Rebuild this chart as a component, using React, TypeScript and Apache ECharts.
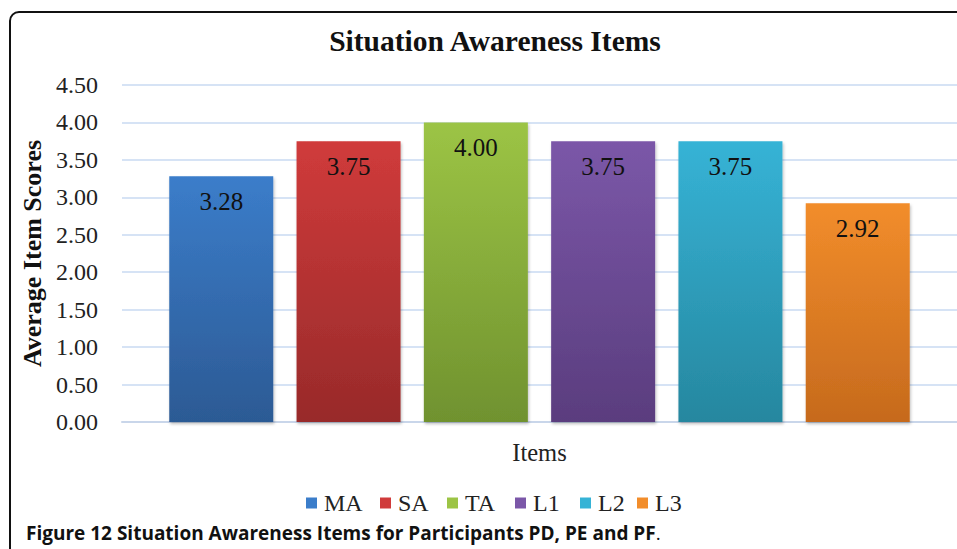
import React, { useEffect, useRef } from "react";
import * as echarts from "echarts";

const categories = ["Items"];
const seriesNames = ["MA", "SA", "TA", "L1", "L2", "L3"];
const seriesValues = [3.28, 3.75, 4.0, 3.75, 3.75, 2.92];
const topColors = ["#3b7dca", "#d03b3b", "#9cc445", "#7b57a8", "#36b3d6", "#f28d2b"];
const bottomColors = ["#2c5a94", "#982a2a", "#70922f", "#5a3d7e", "#26879f", "#c66a1d"];
const yTicks = { min: 0, max: 4.5, interval: 0.5 };

const SERIF = "'Liberation Serif', 'Times New Roman', serif";
const legendLefts = [306, 380, 447, 515, 580, 637];

export default function App() {
  const ref = useRef<HTMLDivElement>(null);
  useEffect(() => {
    if (!ref.current) return;
    const chart = echarts.init(ref.current, undefined, { renderer: "svg" });
    const series = seriesNames.map((name, i) => ({
      name,
      type: "bar",
      data: [seriesValues[i]],
      barWidth: 104,
      barGap: "22.4%",
      itemStyle: {
        color: new echarts.graphic.LinearGradient(0, 0, 0, 1, [
          { offset: 0, color: topColors[i] },
          { offset: 1, color: bottomColors[i] },
        ]),
        shadowColor: "rgba(0,0,0,0.25)",
        shadowBlur: 3,
        shadowOffsetX: 1,
        shadowOffsetY: 2,
      },
      label: {
        show: true,
        position: "insideTop",
        distance: 13,
        formatter: (p: any) => Number(p.value).toFixed(2),
        fontFamily: SERIF,
        fontSize: 25,
        color: "#111",
      },
    }));
    const legends = seriesNames.map((n, i) => ({
      data: [{ name: n, itemStyle: { color: topColors[i] } }],
      left: legendLefts[i],
      top: 491,
      padding: 0,
      icon: "rect",
      itemWidth: 11,
      itemHeight: 11,
      selectedMode: false,
      textStyle: { fontFamily: SERIF, fontSize: 24, color: "#222", padding: [0, 0, 0, 2] },
    }));
    chart.setOption({
      animation: false,
      backgroundColor: "#fff",
      title: {
        text: "Situation Awareness Items",
        left: 490,
        top: 21,
        textAlign: "center",
        textStyle: { fontFamily: SERIF, fontSize: 29.5, fontWeight: "bold", color: "#111" },
      },
      legend: legends,
      grid: { left: 122, top: 85, width: 842, bottom: 127, containLabel: false },
      xAxis: {
        type: "category",
        data: categories,
        axisLine: { lineStyle: { color: "#c9d6ea", width: 2 } },
        axisTick: { show: false },
        axisLabel: { fontFamily: SERIF, fontSize: 24.5, color: "#222", margin: 18 },
      },
      yAxis: {
        type: "value",
        min: yTicks.min,
        max: yTicks.max,
        interval: yTicks.interval,
        name: "Average Item Scores",
        nameLocation: "middle",
        nameGap: 69,
        nameRotate: 90,
        nameTextStyle: { fontFamily: SERIF, fontSize: 26, fontWeight: "bold", color: "#111" },
        axisLine: { show: false },
        axisTick: { show: false },
        splitLine: { lineStyle: { color: "#d6e3f5", width: 2 } },
        axisLabel: {
          fontFamily: SERIF,
          fontSize: 24,
          color: "#222",
          margin: 24,
          formatter: (v: number) => v.toFixed(2),
        },
      },
      graphic: [
        {
          type: "rect",
          shape: { x: 10, y: 12, width: 1100, height: 700, r: 9 },
          style: { fill: "none", stroke: "#111", lineWidth: 2 },
          z: 100,
        },
        {
          type: "text",
          left: 26,
          top: 523,
          style: {
            text: "{b|Figure 12 Situation Awareness Items for Participants PD, PE and PF}{n|.}",
            rich: {
              b: { fontFamily: "'Open Sans', sans-serif", fontWeight: "bold", fontSize: 19, fill: "#111" },
              n: { fontFamily: "'Open Sans', sans-serif", fontWeight: "normal", fontSize: 19, fill: "#111" },
            },
          },
        },
      ],
      series,
    });
    return () => chart.dispose();
  }, []);
  return (
    <div
      ref={ref}
      style={{ position: "fixed", left: 0, top: 0, width: 957, height: 549, background: "#fff" }}
    />
  );
}
